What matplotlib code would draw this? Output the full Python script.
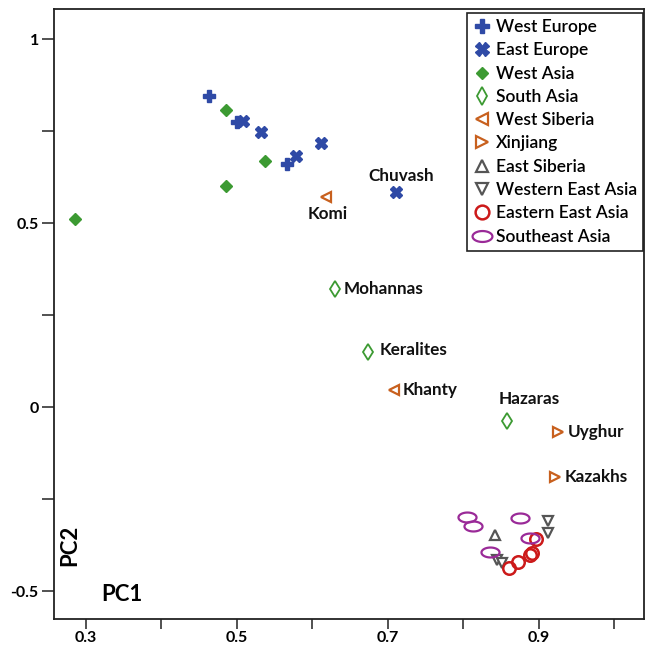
import numpy as np
import matplotlib
matplotlib.use("Agg")
import matplotlib.pyplot as plt
from matplotlib.path import Path
from matplotlib.ticker import FuncFormatter

plt.rcParams['font.family'] = ['Lato', 'DejaVu Sans']

# ---- data (PC1, PC2) ----
west_europe_x = [0.463, 0.501, 0.566]
west_europe_y = [0.845, 0.774, 0.662]
east_europe_x = [0.509, 0.532, 0.578, 0.612, 0.711]
east_europe_y = [0.779, 0.747, 0.684, 0.717, 0.586]
west_asia_x = [0.486, 0.537, 0.486, 0.2855]
west_asia_y = [0.807, 0.670, 0.602, 0.512]
south_asia_x = [0.630, 0.674, 0.858]
south_asia_y = [0.322, 0.150, -0.038]
west_siberia_x = [0.618, 0.708]
west_siberia_y = [0.572, 0.046]
xinjiang_x = [0.926, 0.921]
xinjiang_y = [-0.068, -0.188]
east_siberia_x = [0.842]
east_siberia_y = [-0.346]
western_east_asia_x = [0.912, 0.912, 0.845, 0.851]
western_east_asia_y = [-0.308, -0.341, -0.414, -0.422]
eastern_east_asia_x = [0.896, 0.861, 0.872, 0.888, 0.891]
eastern_east_asia_y = [-0.357, -0.436, -0.420, -0.401, -0.395]
southeast_asia_x = [0.805, 0.813, 0.875, 0.888, 0.836]
southeast_asia_y = [-0.297, -0.322, -0.300, -0.354, -0.392]

label_names = ["Chuvash", "Komi", "Mohannas", "Keralites", "Khanty", "Hazaras", "Uyghur", "Kazakhs"]
label_x = [0.711, 0.618, 0.630, 0.674, 0.708, 0.858, 0.926, 0.921]
label_y = [0.586, 0.572, 0.322, 0.150, 0.046, -0.038, -0.068, -0.188]

x_ticks = [0.3, 0.4, 0.5, 0.6, 0.7, 0.8, 0.9, 1.0]
y_ticks = [-0.5, -0.25, 0, 0.25, 0.5, 0.75, 1]

# ---- styles ----
blue = '#2f4aa6'
green = '#3c9a32'
orange = '#c8601e'
gray = '#555555'
red = '#cc1a1a'
purple = '#9a2a98'

t = np.linspace(0, 2 * np.pi, 60)
ellipse = Path(np.column_stack([np.cos(t), 0.55 * np.sin(t)]), closed=True)

fig = plt.figure(figsize=(6.45, 6.48), dpi=100)
ax = fig.add_axes([54 / 645, 29 / 648, 1 - 54 / 645 - 0.001, (619 - 9) / 648])

series = [
    ("West Europe", west_europe_x, west_europe_y, dict(marker='P', ms=9, color=blue, mec=blue)),
    ("East Europe", east_europe_x, east_europe_y, dict(marker='X', ms=9, color=blue, mec=blue)),
    ("West Asia", west_asia_x, west_asia_y, dict(marker='D', ms=6, color=green, mec=green)),
    ("South Asia", south_asia_x, south_asia_y, dict(marker='d', ms=8, color=green, mfc='white', mew=1.3)),
    ("West Siberia", west_siberia_x, west_siberia_y, dict(marker='<', ms=7.5, color=orange, mfc='white', mew=1.6)),
    ("Xinjiang", xinjiang_x, xinjiang_y, dict(marker='>', ms=7.5, color=orange, mfc='white', mew=1.6)),
    ("East Siberia", east_siberia_x, east_siberia_y, dict(marker='^', ms=7.5, color=gray, mfc='white', mew=1.6)),
    ("Western East Asia", western_east_asia_x, western_east_asia_y, dict(marker='v', ms=7.5, color=gray, mfc='white', mew=1.6)),
    ("Eastern East Asia", eastern_east_asia_x, eastern_east_asia_y, dict(marker='o', ms=9, color=red, mfc='none', mew=1.8)),
    ("Southeast Asia", southeast_asia_x, southeast_asia_y, dict(marker=ellipse, ms=13, color=purple, mfc='none', mew=1.6)),
]
for name, xs, ys, st in series:
    ax.plot(xs, ys, linestyle='none', label=name, **st)

offsets = {
    "Chuvash": (4, 11, 'center'),
    "Komi": (1.5, -12.5, 'center'),
    "Mohannas": (6, 0, 'left'),
    "Keralites": (8, 1.5, 'left'),
    "Khanty": (6.5, 0.5, 'left'),
    "Hazaras": (16, 16, 'center'),
    "Uyghur": (7, 0, 'left'),
    "Kazakhs": (7, 0, 'left'),
}
for n, lx, ly in zip(label_names, label_x, label_y):
    dx, dy, ha = offsets[n]
    ax.annotate(n, (lx, ly), xytext=(dx, dy), textcoords='offset points',
                ha=ha, va='center', fontsize=12.3, fontweight='bold', color='#111111')

ax.set_xlim(0.258, 1.04)
ax.set_ylim(-0.575, 1.082)
ax.set_xticks(x_ticks)
ax.set_yticks(y_ticks)
ax.xaxis.set_major_formatter(FuncFormatter(lambda v, p: ('%g' % round(v, 2)) if round(v * 10) % 2 == 1 else ''))
ax.yaxis.set_major_formatter(FuncFormatter(lambda v, p: ('%g' % v) if abs(v * 2 - round(v * 2)) < 1e-9 else ''))
ax.tick_params(direction='out', width=1.2, labelsize=11.5, color='#333333')
ax.tick_params(axis='x', length=7, pad=1.5)
ax.tick_params(axis='y', length=9, pad=2)
for lab in ax.get_xticklabels() + ax.get_yticklabels():
    lab.set_fontweight('bold')
for sp in ax.spines.values():
    sp.set_linewidth(1.3)
    sp.set_color('#222222')

ax.text(0.0265, 0.12, 'PC2', transform=ax.transAxes, rotation=90, fontsize=16,
        fontweight='bold', ha='center', va='center')
ax.text(0.115, 0.04, 'PC1', transform=ax.transAxes, fontsize=16,
        fontweight='bold', ha='center', va='center')

leg = ax.legend(loc='upper right', bbox_to_anchor=(0.9985, 0.9935), fancybox=False,
                edgecolor='#222222', framealpha=1, fontsize=12.5, handletextpad=0.25,
                handlelength=1.1, borderpad=0.35, labelspacing=0.42, borderaxespad=0,
                markerscale=1.1)
leg.get_frame().set_linewidth(1.2)
for txt in leg.get_texts():
    txt.set_fontweight('semibold')

fig.savefig('out.png', dpi=100)
